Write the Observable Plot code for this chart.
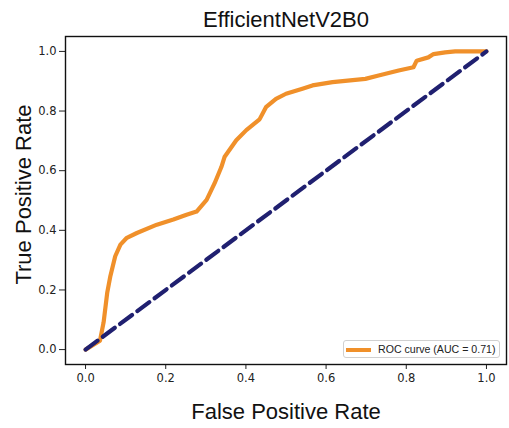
<!DOCTYPE html>
<html>
<head>
<meta charset="utf-8">
<script src="https://cdn.jsdelivr.net/npm/d3@7"></script>
<script src="https://cdn.jsdelivr.net/npm/@observablehq/plot@0.6"></script>
<style>
  html, body { margin: 0; padding: 0; background: #fff; }
  #wrap { position: relative; width: 509px; height: 428px; }
  #legend {
    position: absolute; left: 343px; top: 340px; width: 157px; height: 18px;
    border: 1px solid #d0d0d0; border-radius: 3px; background: #fff;
    font-family: "Liberation Sans", Arial, sans-serif; font-size: 10.6px; color: #222;
    box-sizing: border-box;
  }
  #legend .sw { position: absolute; left: 2px; top: 7px; width: 25px; height: 4px; background: #f0902a; }
  #legend .lb { position: absolute; left: 34px; top: 2px; white-space: nowrap; line-height: 13px; }
</style>
</head>
<body>
<div id="wrap"></div>
<script>
const titleText = "EfficientNetV2B0";
const xLabel = "False Positive Rate";
const yLabel = "True Positive Rate";
const legendLabel = "ROC curve (AUC = 0.71)";
const tickValues = [0, 0.2, 0.4, 0.6, 0.8, 1.0];

// ROC curve points (false positive rate, true positive rate)
const fpr = [0, 0.036, 0.045, 0.054, 0.062, 0.074, 0.087, 0.103, 0.128, 0.178, 0.219, 0.252, 0.277,
  0.302, 0.322, 0.339, 0.347, 0.376, 0.401, 0.434, 0.45, 0.475, 0.5, 0.541, 0.566, 0.616, 0.698,
  0.731, 0.781, 0.818, 0.826, 0.855, 0.868, 0.897, 0.922, 1.0];
const tpr = [0, 0.03, 0.091, 0.19, 0.247, 0.313, 0.352, 0.375, 0.391, 0.419, 0.436, 0.452, 0.463,
  0.502, 0.558, 0.613, 0.647, 0.702, 0.736, 0.772, 0.813, 0.841, 0.858, 0.875, 0.886, 0.897, 0.908,
  0.919, 0.936, 0.947, 0.969, 0.98, 0.991, 0.997, 1.0, 1.0];
const chanceX = [0, 1];
const chanceY = [0, 1];

const roc = fpr.map((x, i) => ({x, y: tpr[i]}));
const chance = chanceX.map((x, i) => ({x, y: chanceY[i]}));

const fmt = d3.format(".1f");
const labelFont = "Liberation Sans, Arial, sans-serif";

const chart = Plot.plot({
  width: 509,
  height: 428,
  marginLeft: 65,
  marginRight: 3,
  marginTop: 36,
  marginBottom: 64,
  style: { fontFamily: "DejaVu Sans, sans-serif", fontSize: "11.5px", color: "#222", background: "#fff" },
  x: { domain: [-0.05, 1.05], label: null },
  y: { domain: [-0.05, 1.05], label: null },
  marks: [
    Plot.axisX({ ticks: tickValues, tickFormat: fmt, tickSize: 5, tickPadding: 4, label: null, stroke: "#222" }),
    Plot.axisY({ ticks: tickValues, tickFormat: fmt, tickSize: 6, tickPadding: 3, label: null, stroke: "#222" }),
    Plot.line(roc, { x: "x", y: "y", stroke: "#f0902a", strokeWidth: 4.2, curve: "linear" }),
    Plot.line(chance, { x: "x", y: "y", stroke: "#202070", strokeWidth: 4.2, strokeDasharray: "15,6.5" }),
    Plot.frame({ stroke: "#111", strokeWidth: 1.4 }),
    Plot.text([titleText], { frameAnchor: "top", dy: -17, lineAnchor: "middle", textAnchor: "middle", text: d => d, fontSize: 22, fontFamily: labelFont, fill: "#111" }),
    Plot.text([xLabel], { frameAnchor: "bottom", dy: 47, lineAnchor: "middle", textAnchor: "middle", text: d => d, fontSize: 22, fontFamily: labelFont, fill: "#111" }),
    Plot.text([yLabel], { frameAnchor: "left", dx: -42, dy: -6, rotate: -90, lineAnchor: "middle", textAnchor: "middle", text: d => d, fontSize: 22, fontFamily: labelFont, fill: "#111" })
  ]
});

const wrap = document.getElementById("wrap");
wrap.appendChild(chart);
const lg = document.createElement("div");
lg.id = "legend";
lg.innerHTML = '<div class="sw"></div><div class="lb"></div>';
lg.querySelector(".lb").textContent = legendLabel;
wrap.appendChild(lg);
</script>
</body>
</html>
